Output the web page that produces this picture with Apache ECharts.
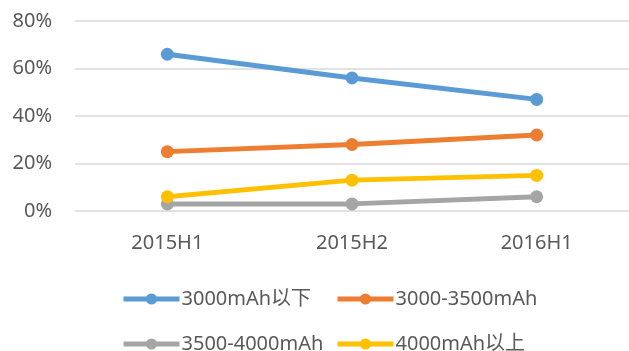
<!DOCTYPE html>
<html lang="zh">
<head>
  <meta charset="UTF-8">
  <title>chart</title>
  <style>html,body{margin:0;padding:0;background:#fff;}</style>
</head>
<body>
<div id="main" style="width: 629px;height:351px;"></div>
<script src="https://cdn.jsdelivr.net/npm/echarts@6/dist/echarts.min.js"></script>
<script>
var categories = ['2015H1', '2015H2', '2016H1'];
var below3000 = [66, 56, 47];
var r3000to3500 = [25, 28, 32];
var r3500to4000 = [3, 3, 6];
var above4000 = [6, 13, 15];
var yTicks = [0, 20, 40, 60, 80];

var font = '"Noto Sans", "Noto Sans CJK SC", sans-serif';
var textColor = '#595959';

var myChart = echarts.init(document.getElementById('main'));

function line(name, color, data) {
  return {
    name: name,
    type: 'line',
    data: data,
    symbol: 'circle',
    symbolSize: 13,
    itemStyle: { color: color },
    lineStyle: { color: color, width: 5 },
    animation: false
  };
}

// one legend per item so the two columns line up like the original
function legendAt(name, left, top) {
  return {
    left: left, top: top,
    itemWidth: 56, itemHeight: 14, itemGap: 0,
    data: [name],
    lineStyle: { width: 5 },
    textStyle: { fontFamily: font, fontSize: 20, color: textColor, padding: [0, 0, 0, -3] }
  };
}

myChart.setOption({
  grid: { left: 75, top: 21, width: 560, height: 190 },
  legend: [
    legendAt('3000mAh以下', 116, 284),
    legendAt('3000-3500mAh', 330, 284),
    legendAt('3500-4000mAh', 116, 329),
    legendAt('4000mAh以上', 330, 329)
  ],
  xAxis: {
    type: 'category',
    data: categories,
    boundaryGap: true,
    axisLine: { show: false },
    axisTick: { show: false },
    axisLabel: { fontFamily: font, fontSize: 20, color: textColor, margin: 22 }
  },
  yAxis: {
    type: 'value',
    min: yTicks[0],
    max: yTicks[yTicks.length - 1],
    interval: 20,
    axisLine: { show: false },
    axisTick: { show: false },
    splitLine: { lineStyle: { color: '#d9d9d9', width: 1.5 } },
    axisLabel: { fontFamily: font, fontSize: 20, color: textColor, margin: 23, formatter: '{value}%' }
  },
  series: [
    line('3000mAh以下', '#5B9BD5', below3000),
    line('3000-3500mAh', '#ED7D31', r3000to3500),
    line('3500-4000mAh', '#A5A5A5', r3500to4000),
    line('4000mAh以上', '#FFC000', above4000)
  ]
});
</script>
</body>
</html>
